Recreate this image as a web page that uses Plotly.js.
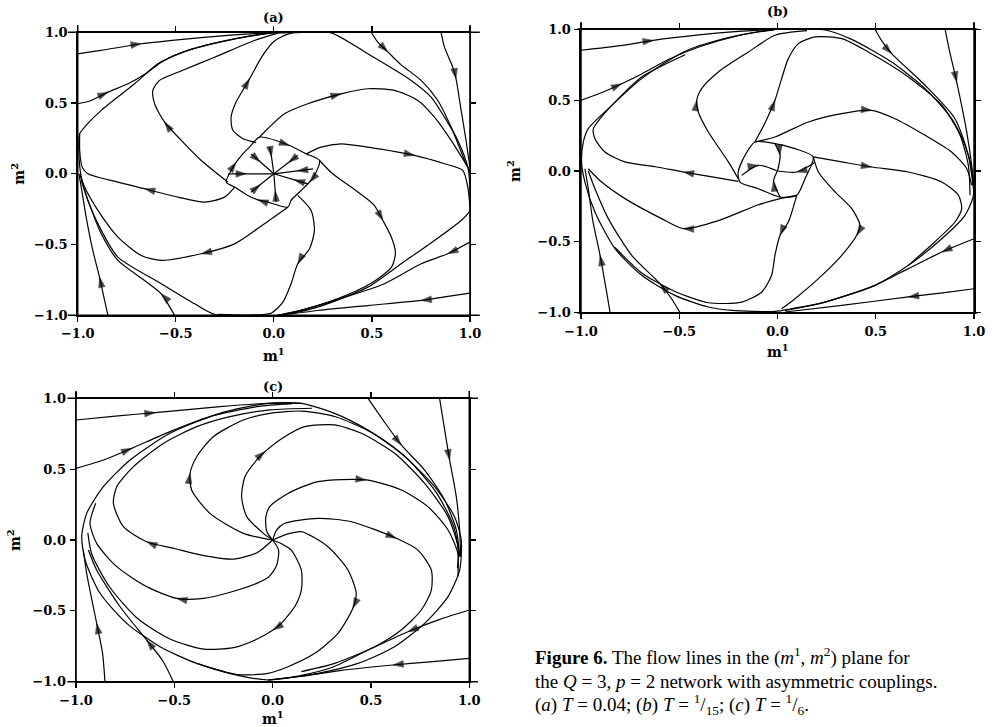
<!DOCTYPE html>
<html><head><meta charset="utf-8">
<script src="https://cdn.plot.ly/plotly-3.0.1.min.js"></script>
<style>html,body{margin:0;padding:0;background:#fff}#chart{width:994px;height:727px}</style>
</head><body><div id="chart"></div>
<script>
// ---------- Panel (a): T = 0.04 ----------
const flowA = [
  [[-0.014,0.996],[0.139,1.0],[0.292,0.996],[0.479,0.848],[0.7,0.66],[0.802,0.542],[0.87,0.4],[0.938,0.236],[0.989,0.047],[1.0,-0.094],[1.0,-0.259],[0.955,-0.33],[0.819,-0.471],[0.649,-0.636],[0.479,-0.801],[0.224,-0.942],[0.02,-1.0],[-0.302,-0.994],[-0.404,-0.919],[-0.574,-0.777],[-0.795,-0.589],[-0.88,-0.4],[-0.948,-0.188],[-0.982,-0.024],[-0.994,0.141],[-0.99,0.283],[-0.965,0.33],[-0.88,0.448],[-0.71,0.636],[-0.591,0.777],[-0.438,0.872],[-0.2,0.954],[-0.014,0.996]],
  [[-1.0,0.848],[-0.88,0.872],[-0.676,0.919],[-0.438,0.954],[-0.2,0.982],[-0.014,0.996],[0.1,1.0]],
  [[-1.0,0.495],[-0.931,0.518],[-0.846,0.577],[-0.744,0.636],[-0.642,0.718],[-0.574,0.789],[-0.438,0.872],[-0.2,0.954],[-0.014,0.994]],
  [[0.496,1.0],[0.53,0.93],[0.581,0.862],[0.649,0.77],[0.751,0.66],[0.836,0.518],[0.904,0.33],[0.98,0.071],[1.0,0.02]],
  [[0.853,1.0],[0.87,0.895],[0.912,0.754],[0.929,0.671],[0.955,0.448],[0.98,0.236],[1.0,0.047]],
  [[1.0,-0.483],[0.887,-0.565],[0.751,-0.636],[0.564,-0.777],[0.309,-0.895],[0.105,-0.978],[0.02,-1.0]],
  [[1.0,-0.843],[0.87,-0.87],[0.751,-0.895],[0.479,-0.931],[0.224,-0.966],[0.037,-1.0]],
  [[-0.846,-1.0],[-0.863,-0.895],[-0.889,-0.73],[-0.923,-0.542],[-0.957,-0.306],[-0.982,-0.094],[-0.994,0.0]],
  [[-0.506,-1.0],[-0.54,-0.919],[-0.574,-0.848],[-0.659,-0.754],[-0.795,-0.612],[-0.88,-0.424],[-0.948,-0.188],[-0.982,-0.047]],
  [[-0.09,0.22],[-0.16,0.25],[-0.21,0.31],[-0.218,0.4],[-0.195,0.5],[-0.124,0.671],[-0.06,0.83],[0.0,0.935],[0.08,0.99],[0.25,1.0]],
  [[-0.073,0.259],[-0.031,0.318],[0.054,0.424],[0.173,0.495],[0.343,0.565],[0.479,0.601],[0.615,0.589],[0.734,0.518],[0.819,0.4],[0.904,0.236],[0.989,0.047]],
  [[0.165,0.141],[0.241,0.188],[0.343,0.212],[0.479,0.188],[0.717,0.13],[0.87,0.071],[0.963,0.024],[0.989,-0.094],[1.0,-0.236]],
  [[0.233,0.094],[0.3,0.0],[0.42,-0.12],[0.51,-0.22],[0.556,-0.33],[0.6,-0.45],[0.62,-0.56],[0.6,-0.66],[0.5,-0.77],[0.33,-0.88],[0.15,-0.96],[0.02,-1.0]],
  [[0.122,-0.153],[0.19,-0.259],[0.207,-0.4],[0.182,-0.53],[0.122,-0.636],[0.088,-0.777],[0.046,-0.907],[-0.014,-0.985],[-0.133,-0.998],[-0.285,-0.994]],
  [[0.071,-0.236],[-0.048,-0.353],[-0.2,-0.495],[-0.37,-0.565],[-0.574,-0.612],[-0.676,-0.577],[-0.795,-0.448],[-0.897,-0.259],[-0.965,-0.094],[-0.99,0.0]],
  [[-0.2,-0.094],[-0.251,-0.165],[-0.353,-0.2],[-0.489,-0.165],[-0.659,-0.106],[-0.795,-0.059],[-0.948,0.0],[-0.977,0.047],[-0.99,0.165],[-0.99,0.283]],
  [[-0.234,-0.059],[-0.37,0.094],[-0.472,0.236],[-0.557,0.365],[-0.608,0.495],[-0.617,0.589],[-0.583,0.66],[-0.489,0.718],[-0.302,0.824],[-0.099,0.942],[0.02,0.994]],
  [[-0.073,0.259],[0.08,0.2],[0.165,0.141],[0.233,0.094],[0.207,-0.012],[0.182,-0.059],[0.139,-0.118],[0.088,-0.188],[0.071,-0.236],[-0.031,-0.2],[-0.082,-0.184],[-0.133,-0.153],[-0.2,-0.094],[-0.243,-0.059],[-0.218,0.024],[-0.192,0.082],[-0.158,0.141],[-0.124,0.188],[-0.073,0.259]],
  [[-0.116,0.141],[-0.07,0.085],[0,0]],
  [[-0.022,0.19],[-0.012,0.12],[0,0]],
  [[0.122,0.13],[0.075,0.08],[0,0]],
  [[0.2,0.035],[0.12,0.02],[0,0]],
  [[0.173,-0.071],[0.105,-0.043],[0,0]],
  [[0.012,-0.2],[0.007,-0.12],[0,0]],
  [[-0.116,-0.13],[-0.07,-0.078],[0,0]],
  [[-0.234,0.0],[-0.14,0.0],[0,0]]
];
const arrowA = [[],[2],[2],[2],[3],[1],[2],[2],[2],[5],[4],[4],[4],[4],[3],[4],[3],[1,5,10,15],[1],[1],[1],[1],[1],[1],[1],[1]];

// ---------- Panel (b): T = 1/15 ----------
const flowB = [
  [[-0.013,1.0],[0.242,0.995],[0.377,0.929],[0.581,0.769],[0.751,0.581],[0.886,0.369],[0.954,0.181],[0.988,0.016],[0.997,-0.172],[0.954,-0.313],[0.836,-0.478],[0.666,-0.666],[0.496,-0.807],[0.242,-0.925],[0.072,-0.972],[-0.013,-0.991],[-0.233,-0.984],[-0.352,-0.96],[-0.522,-0.878],[-0.691,-0.736],[-0.827,-0.548],[-0.929,-0.289],[-0.98,-0.078],[-0.997,0.064],[-0.988,0.205],[-0.963,0.299],[-0.861,0.44],[-0.691,0.652],[-0.47,0.845],[-0.27,0.935],[-0.013,1.0]],
  [[-1.0,0.852],[-0.8,0.885],[-0.632,0.922],[-0.4,0.96],[-0.2,0.985],[-0.013,1.0]],
  [[-1.0,0.499],[-0.9,0.55],[-0.793,0.616],[-0.691,0.685],[-0.55,0.79],[-0.4,0.875],[-0.2,0.955],[-0.013,0.998]],
  [[0.496,1.0],[0.53,0.92],[0.581,0.828],[0.751,0.605],[0.903,0.369],[0.971,0.111],[0.997,-0.125]],
  [[0.853,1.0],[0.875,0.85],[0.912,0.628],[0.963,0.275],[0.988,0.04],[0.997,-0.1]],
  [[1.0,-0.478],[0.836,-0.572],[0.666,-0.689],[0.496,-0.807],[0.242,-0.925],[0.038,-0.984]],
  [[1.0,-0.831],[0.85,-0.858],[0.666,-0.889],[0.327,-0.948],[0.038,-0.995]],
  [[-0.852,-1.0],[-0.87,-0.85],[-0.903,-0.595],[-0.94,-0.35],[-0.963,-0.125],[-0.98,0.016]],
  [[-0.496,-1.0],[-0.54,-0.9],[-0.598,-0.795],[-0.742,-0.595],[-0.861,-0.336],[-0.929,-0.125],[-0.963,0.0]],
  [[-0.2,-0.054],[-0.25,0.064],[-0.352,0.275],[-0.403,0.416],[-0.411,0.499],[-0.386,0.581],[-0.301,0.699],[-0.148,0.84],[-0.013,0.958],[0.15,0.99]],
  [[-0.115,0.205],[-0.06,0.35],[-0.013,0.499],[0.021,0.652],[0.055,0.793],[0.106,0.899],[0.191,0.946],[0.327,0.934],[0.462,0.84],[0.666,0.664],[0.836,0.464],[0.929,0.252],[0.971,0.04],[0.98,-0.172]],
  [[-0.115,0.205],[-0.013,0.24],[0.157,0.346],[0.327,0.405],[0.479,0.428],[0.598,0.369],[0.751,0.252],[0.886,0.134],[0.963,0.016],[0.988,-0.1]],
  [[0.182,0.099],[0.327,0.064],[0.479,0.028],[0.666,-0.007],[0.836,-0.078],[0.921,-0.172],[0.937,-0.266],[0.903,-0.36],[0.8,-0.501],[0.666,-0.666]],
  [[0.182,0.099],[0.208,-0.007],[0.293,-0.148],[0.378,-0.266],[0.42,-0.384],[0.403,-0.454],[0.327,-0.595],[0.208,-0.76],[0.089,-0.901],[0.021,-0.972]],
  [[0.098,-0.172],[0.055,-0.36],[0.013,-0.454],[-0.013,-0.595],[-0.03,-0.736],[-0.08,-0.854],[-0.182,-0.925],[-0.352,-0.93],[-0.522,-0.85],[-0.691,-0.72],[-0.827,-0.54]],
  [[0.098,-0.172],[0.013,-0.195],[-0.1,-0.24],[-0.3,-0.35],[-0.479,-0.407],[-0.59,-0.336],[-0.776,-0.195],[-0.895,-0.078],[-0.963,0.016]],
  [[-0.2,-0.073],[-0.34,-0.04],[-0.479,-0.007],[-0.62,0.03],[-0.776,0.064],[-0.878,0.134],[-0.929,0.228],[-0.937,0.299],[-0.903,0.369],[-0.81,0.511],[-0.691,0.664],[-0.47,0.82]],
  [[-0.115,0.205],[-0.013,0.193],[0.089,0.158],[0.182,0.099],[0.14,-0.054],[0.098,-0.172],[0.013,-0.184],[-0.098,-0.125],[-0.191,-0.078],[-0.2,-0.007],[-0.165,0.111],[-0.115,0.205]],
  [[-0.182,-0.031],[-0.098,0.04],[0,0]],
  [[0.19,0.06],[0.098,-0.007],[0,0]],
  [[-0.013,0.193],[0.013,0.111],[0,0]],
  [[0.013,-0.184],[-0.02,-0.07],[0,0]]
];
const arrowB = [[],[2],[2],[2],[2],[1],[2],[2],[2],[4],[2],[4],[2],[5],[2],[4],[2],[],[1],[1],[1],[1]];

// ---------- Panel (c): T = 1/6 ----------
const flowC = [
  [[-0.024,0.965],[0.146,0.965],[0.315,0.894],[0.485,0.776],[0.654,0.612],[0.824,0.376],[0.925,0.165],[0.959,0.0],[0.951,-0.212],[0.892,-0.4],[0.773,-0.588],[0.62,-0.753],[0.434,-0.871],[0.231,-0.941],[0.061,-0.976],[-0.024,-0.988],[-0.183,-0.953],[-0.386,-0.871],[-0.573,-0.753],[-0.742,-0.588],[-0.878,-0.376],[-0.954,-0.141],[-0.971,0.024],[-0.946,0.188],[-0.861,0.376],[-0.725,0.565],[-0.522,0.753],[-0.268,0.894],[-0.024,0.965]],
  [[-1.0,0.847],[-0.8,0.875],[-0.598,0.899],[-0.268,0.941],[-0.014,0.965],[0.146,0.965]],
  [[-1.0,0.506],[-0.85,0.57],[-0.717,0.647],[-0.522,0.765],[-0.319,0.871],[-0.081,0.941],[0.1,0.962]],
  [[0.485,1.0],[0.56,0.85],[0.654,0.671],[0.773,0.494],[0.875,0.282],[0.934,0.071],[0.951,-0.118]],
  [[0.849,1.0],[0.875,0.776],[0.9,0.565],[0.934,0.306],[0.951,0.071],[0.956,-0.118]],
  [[1.0,-0.494],[0.85,-0.56],[0.688,-0.647],[0.481,-0.78],[0.3,-0.9],[0.13,-0.96],[-0.024,-0.988]],
  [[1.0,-0.835],[0.8,-0.86],[0.612,-0.882],[0.35,-0.92],[0.13,-0.965],[-0.024,-0.988]],
  [[-0.853,-1.0],[-0.865,-0.8],[-0.895,-0.588],[-0.946,-0.235],[-0.963,-0.07]],
  [[-0.505,-1.0],[-0.56,-0.85],[-0.641,-0.706],[-0.776,-0.471],[-0.895,-0.212],[-0.937,-0.07]],
  [[0,0],[-0.08,-0.09],[-0.2,-0.135],[-0.35,-0.11],[-0.5,-0.06],[-0.641,-0.012],[-0.759,0.094],[-0.81,0.259],[-0.793,0.376],[-0.708,0.518],[-0.556,0.682],[-0.386,0.8],[-0.217,0.871],[-0.014,0.918],[0.2,0.93]],
  [[0,0],[-0.149,0.047],[-0.319,0.188],[-0.412,0.353],[-0.42,0.471],[-0.386,0.588],[-0.302,0.729],[-0.149,0.847],[-0.014,0.894],[0.15,0.91],[0.32,0.87],[0.5,0.76],[0.68,0.58],[0.83,0.34],[0.92,0.1],[0.95,-0.1]],
  [[0,0],[-0.047,0.047],[-0.132,0.165],[-0.158,0.306],[-0.141,0.447],[-0.081,0.565],[-0.039,0.624],[0.061,0.729],[0.163,0.8],[0.315,0.812],[0.451,0.753],[0.62,0.612],[0.773,0.4],[0.892,0.165],[0.942,-0.047],[0.942,-0.259]],
  [[0,0],[-0.03,0.06],[-0.035,0.16],[-0.015,0.235],[0.078,0.329],[0.23,0.412],[0.476,0.424],[0.654,0.353],[0.79,0.235],[0.892,0.071],[0.942,-0.094],[0.94,-0.2]],
  [[0,0],[0.02,0.07],[0.061,0.118],[0.23,0.153],[0.4,0.129],[0.629,0.012],[0.739,-0.071],[0.807,-0.212],[0.807,-0.353],[0.756,-0.494],[0.654,-0.635],[0.519,-0.753],[0.315,-0.871],[0.146,-0.929]],
  [[0,0],[0.07,0.04],[0.146,0.059],[0.281,-0.047],[0.383,-0.212],[0.425,-0.376],[0.408,-0.482],[0.332,-0.659],[0.214,-0.8],[0.078,-0.894],[-0.024,-0.941],[-0.18,-0.95],[-0.386,-0.871]],
  [[0,0],[0.05,-0.03],[0.095,-0.071],[0.146,-0.212],[0.146,-0.353],[0.112,-0.471],[0.044,-0.588],[0.002,-0.635],[-0.081,-0.7],[-0.2,-0.76],[-0.35,-0.77],[-0.52,-0.7],[-0.69,-0.55],[-0.83,-0.33],[-0.92,-0.1],[-0.94,0.05]],
  [[0,0],[0.03,-0.07],[0.02,-0.18],[-0.02,-0.26],[-0.081,-0.306],[-0.234,-0.376],[-0.353,-0.412],[-0.488,-0.412],[-0.641,-0.329],[-0.793,-0.188],[-0.895,-0.024],[-0.929,0.118],[-0.9,0.26]]
];
const arrowC = [[],[2],[2],[2],[2],[2],[2],[2],[2],[5],[4],[6],[6],[5],[6],[7],[7]];

const tickVals = [-1.0, -0.5, 0.0, 0.5, 1.0];
const panelLabels = ['(a)', '(b)', '(c)'];

// ---------- build ----------
const traces = [];
function addPanel(curves, arrows, xa, ya) {
  curves.forEach(pts => {
    traces.push({type:'scatter', mode:'lines', x:pts.map(p=>p[0]), y:pts.map(p=>p[1]),
      xaxis:xa, yaxis:ya, line:{color:'#000', width:1.2, shape:'spline', smoothing:0.7},
      hoverinfo:'skip', showlegend:false});
  });
  const ax=[], ay=[], sz=[];
  curves.forEach((pts,i) => {
    (arrows[i]||[]).forEach(k => {
      const a = pts[k-1] || pts[k], b = pts[k+1] || pts[k];
      // invisible helper behind the tip, only used to orient the arrowhead
      ax.push(pts[k][0] - (b[0]-a[0])*0.3); ay.push(pts[k][1] - (b[1]-a[1])*0.3); sz.push(0);
      ax.push(pts[k][0]); ay.push(pts[k][1]); sz.push(11);
    });
  });
  traces.push({type:'scatter', mode:'markers', x:ax, y:ay, xaxis:xa, yaxis:ya,
    marker:{symbol:'arrow', size:sz, color:'#000', angleref:'previous', line:{width:0.5, color:'#000'}},
    hoverinfo:'skip', showlegend:false});
}
addPanel(flowA, arrowA, 'x', 'y');
addPanel(flowB, arrowB, 'x2', 'y2');
addPanel(flowC, arrowC, 'x3', 'y3');

const tickFont = {family:'DejaVu Serif', size:13, color:'#000', weight:'bold'};
function axis(domain, anchor) {
  return {domain:domain, anchor:anchor, range:[-1,1], tickvals:tickVals, tickformat:'.1f',
    showline:true, linecolor:'#000', linewidth:1.5, mirror:'ticks', ticks:'outside', ticklen:5,
    tickwidth:1.2, tickcolor:'#000', showgrid:false, zeroline:false, tickfont:tickFont,
    ticklabelstandoff:1, fixedrange:true};
}
const dom = {
  a:{x:[0.0782,0.4728], y:[0.5663,0.9556]},
  b:{x:[0.5845,0.9799], y:[0.5699,0.9597]},
  c:{x:[0.0765,0.4721], y:[0.0623,0.4521]}
};

const shapes = [];
[['x','y',0.025],['x2','y2',0.01],['x3','y3',0.022]].forEach(([xa,ya,ext]) => {
  const L = {color:'#000', width:1.5};
  shapes.push({type:'line', xref:xa+' domain', yref:ya+' domain', x0:-ext, x1:1+ext, y0:1, y1:1, line:L});
  shapes.push({type:'line', xref:xa+' domain', yref:ya+' domain', x0:-ext, x1:1+ext, y0:0, y1:0, line:L});
  shapes.push({type:'line', xref:xa+' domain', yref:ya+' domain', x0:0, x1:0, y0:0, y1:1.026, line:L});
  shapes.push({type:'line', xref:xa+' domain', yref:ya+' domain', x0:1, x1:1, y0:0, y1:1.026, line:L});
});

const labFont = {family:'DejaVu Serif', size:13, color:'#000', weight:'bold'};
const titleFont = {family:'DejaVu Serif', size:14, color:'#000', weight:'bold'};
const capFont = {family:'Liberation Serif', size:19, color:'#000'};
const A = {showarrow:false, xanchor:'center', yanchor:'middle'};
const annotations = [
  Object.assign({text:panelLabels[0], xref:'x', x:0, yref:'paper', y:0.976, font:labFont}, A),
  Object.assign({text:panelLabels[1], xref:'x2', x:0, yref:'paper', y:0.9835, font:labFont}, A),
  Object.assign({text:panelLabels[2], xref:'x3', x:0, yref:'paper', y:0.4677, font:labFont}, A),
  Object.assign({text:'m<sup>1</sup>', xref:'x', x:0, yref:'paper', y:0.512, font:titleFont}, A),
  Object.assign({text:'m<sup>1</sup>', xref:'x2', x:0, yref:'paper', y:0.517, font:titleFont}, A),
  Object.assign({text:'m<sup>1</sup>', xref:'x3', x:0, yref:'paper', y:0.0125, font:titleFont}, A),
  Object.assign({text:'m<sup>2</sup>', xref:'paper', x:0.018, yref:'y', y:0, textangle:-90, font:titleFont}, A),
  Object.assign({text:'m<sup>2</sup>', xref:'paper', x:0.517, yref:'y2', y:0, textangle:-90, font:titleFont}, A),
  Object.assign({text:'m<sup>2</sup>', xref:'paper', x:0.0141, yref:'y3', y:0, textangle:-90, font:titleFont}, A),
  {text:'<b>Figure 6.</b> The flow lines in the (<i>m</i><sup>1</sup>, <i>m</i><sup>2</sup>) plane for',
   xref:'paper', yref:'paper', x:0.536, y:0.0963, xanchor:'left', yanchor:'middle', showarrow:false, font:capFont},
  {text:'the <i>Q</i> = 3, <i>p</i> = 2 network with asymmetric couplings.',
   xref:'paper', yref:'paper', x:0.536, y:0.0619, xanchor:'left', yanchor:'middle', showarrow:false, font:capFont},
  {text:'(<i>a</i>) <i>T</i> = 0.04; (<i>b</i>) <i>T</i> = <sup>1</sup>/<sub>15</sub>; (<i>c</i>) <i>T</i> = <sup>1</sup>/<sub>6</sub>.',
   xref:'paper', yref:'paper', x:0.536, y:0.0303, xanchor:'left', yanchor:'middle', showarrow:false, font:capFont}
];

const layout = {
  width:994, height:727, margin:{l:0,r:0,t:0,b:0}, paper_bgcolor:'#fff', plot_bgcolor:'#fff',
  showlegend:false,
  xaxis:axis(dom.a.x,'y'), yaxis:axis(dom.a.y,'x'),
  xaxis2:axis(dom.b.x,'y2'), yaxis2:axis(dom.b.y,'x2'),
  xaxis3:axis(dom.c.x,'y3'), yaxis3:axis(dom.c.y,'x3'),
  shapes:shapes, annotations:annotations
};
Plotly.newPlot('chart', traces, layout, {staticPlot:true, displayModeBar:false});
</script></body></html>
